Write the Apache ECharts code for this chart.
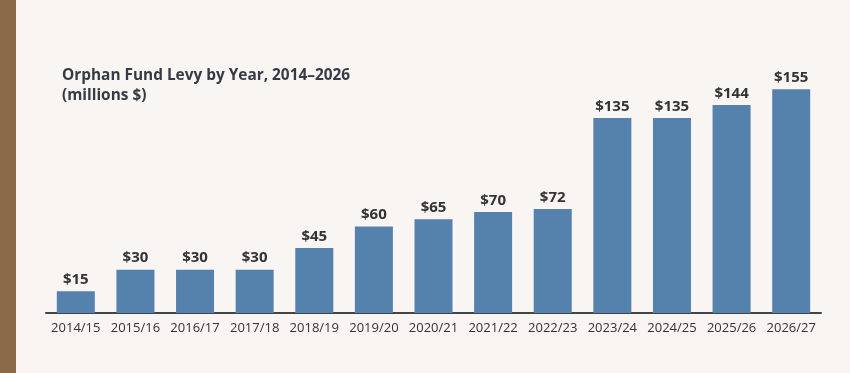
<!DOCTYPE html>
<html><head><meta charset="utf-8">
<script src="https://cdn.jsdelivr.net/npm/echarts@6/dist/echarts.min.js"></script>
<style>html,body{margin:0;padding:0;background:#f8f5f2;}#c{width:850px;height:373px;}</style>
</head><body><div id="c"></div>
<script>
const categories = ["2014/15","2015/16","2016/17","2017/18","2018/19","2019/20","2020/21","2021/22","2022/23","2023/24","2024/25","2025/26","2026/27"];
const levy = [15,30,30,30,45,60,65,70,72,135,135,144,155];
const titleText = "Orphan Fund Levy by Year, 2014–2026";
const subtitleText = "(millions $)";

const chart = echarts.init(document.getElementById('c'), null, {renderer:'canvas'});
chart.setOption({
  backgroundColor: '#f8f5f2',
  animation: false,
  graphic: [
    {type:'rect', left:0, top:0, shape:{width:16, height:373}, style:{fill:'#8b6a4a'}}
  ],
  title: {
    text: titleText + "\n" + subtitleText,
    left: 57, top: 61,
    textStyle: {fontFamily:'Open Sans', fontWeight:'bold', fontSize:15.4, color:'#353b45', lineHeight:20}
  },
  grid: {left:46, right:29, top:82, bottom:60, containLabel:false},
  xAxis: {
    type:'category', data: categories,
    axisLine: {lineStyle:{color:'#444', width:2}},
    axisTick: {show:false},
    axisLabel: {interval:0, color:'#333', fontFamily:'Open Sans', fontSize:13, margin:9}
  },
  yAxis: {
    type:'value', min:0, max:160,
    show:false, splitLine:{show:false}
  },
  series: [{
    type:'bar', data: levy, barWidth:38,
    itemStyle:{color:'#5581ad'},
    label:{show:true, position:'top', distance:4, formatter: p => '$' + p.value,
      fontFamily:'Open Sans', fontWeight:'bold', fontSize:15, color:'#333'}
  }]
});
</script></body></html>
